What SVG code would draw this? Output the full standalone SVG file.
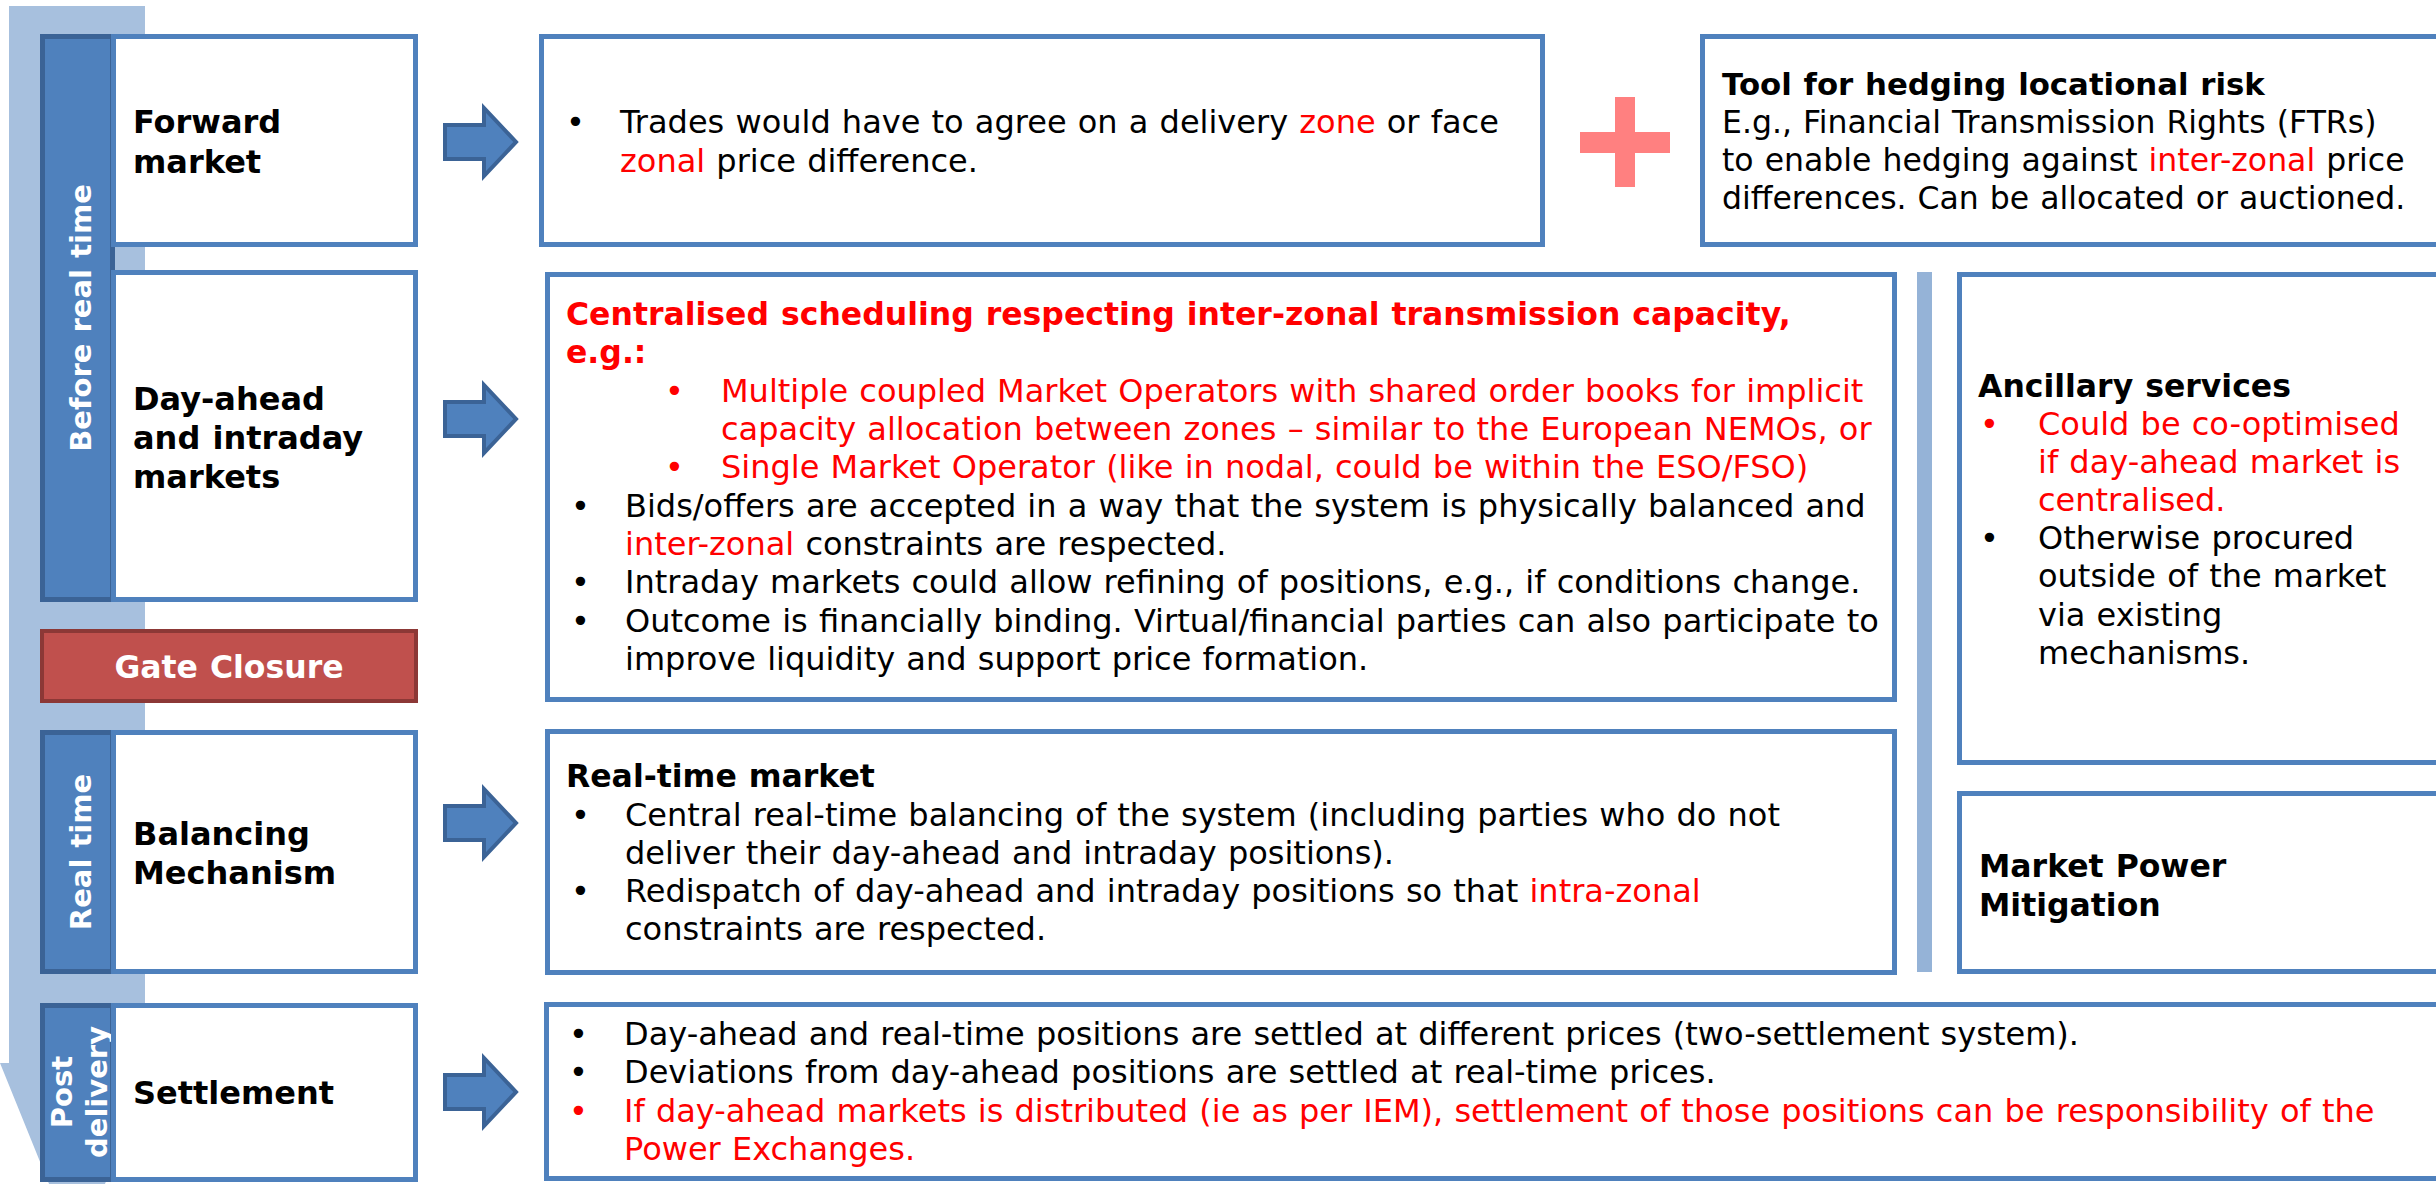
<svg xmlns="http://www.w3.org/2000/svg" width="2436" height="1184" viewBox="0 0 2436 1184">
  <defs>
    <style>
      .t { font-family: "DejaVu Sans", Verdana, sans-serif; word-spacing: 1px; }
      .box { fill: #ffffff; stroke: #4f81bd; stroke-width: 5; }
      .tab { fill: #4f81bd; stroke: #3b6396; stroke-width: 5; }
      .arrow { fill: #4f81bd; stroke: #3b6396; stroke-width: 4; stroke-linejoin: miter; }
      .lbl { font-weight: bold; font-size: 32px; fill: #000; }
      .tabtxt { font-weight: bold; font-size: 29px; fill: #ffffff; }
      .b32 { font-size: 32px; fill: #000; }
      .hd { font-weight: bold; font-size: 31.5px; }
      .ftr { font-size: 31.5px; }
      .ftr.hd { font-size: 30.8px; }
      .red { fill: #ff0000; }
    </style>
  </defs>

  <!-- timeline band behind the stage tabs -->
  <path d="M9,6 H145 V1063 H154 L77,1253 L0,1063 H9 Z" fill="#a7c0de"/>

  <!-- stage tabs -->
  <g id="tab-before">
    <rect class="tab" x="42.5" y="36.5" width="70" height="563"/>
    <text class="t tabtxt" transform="translate(91,318) rotate(-90)" text-anchor="middle">Before real time</text>
  </g>
  <g id="tab-realtime">
    <rect class="tab" x="42.5" y="732.5" width="70" height="239"/>
    <text class="t tabtxt" transform="translate(91,852) rotate(-90)" text-anchor="middle">Real time</text>
  </g>
  <g id="tab-post">
    <rect class="tab" x="42.5" y="1005.5" width="70" height="174"/>
    <text class="t tabtxt" transform="translate(72,1092) rotate(-90)" text-anchor="middle">Post</text>
    <text class="t tabtxt" transform="translate(107,1092) rotate(-90)" text-anchor="middle">delivery</text>
  </g>

  <!-- stage labels -->
  <g id="forward-market">
    <rect class="box" x="113.5" y="36.5" width="302" height="208"/>
    <text class="t lbl" x="133" y="133">Forward</text>
    <text class="t lbl" x="133" y="173">market</text>
  </g>
  <g id="dayahead-intraday">
    <rect class="box" x="113.5" y="272.5" width="302" height="327"/>
    <text class="t lbl" x="133" y="410">Day-ahead</text>
    <text class="t lbl" x="133" y="449">and intraday</text>
    <text class="t lbl" x="133" y="488">markets</text>
  </g>
  <g id="gate-closure">
    <rect x="42" y="631" width="374" height="70" fill="#c0504d" stroke="#8c3836" stroke-width="4"/>
    <text class="t" x="229" y="678" text-anchor="middle" font-size="31.5" font-weight="bold" fill="#ffffff">Gate Closure</text>
  </g>
  <g id="balancing-mechanism">
    <rect class="box" x="113.5" y="732.5" width="302" height="239"/>
    <text class="t lbl" x="133" y="845">Balancing</text>
    <text class="t lbl" x="133" y="884">Mechanism</text>
  </g>
  <g id="settlement">
    <rect class="box" x="113.5" y="1005.5" width="302" height="174"/>
    <text class="t lbl" x="133" y="1104">Settlement</text>
  </g>

  <!-- connectors: block arrows from each stage to its description -->
  <g id="connectors">
    <polygon class="arrow" points="445,125 484,125 484,108 516,142 484,176 484,159 445,159"/>
    <polygon class="arrow" points="445,402 484,402 484,385 516,419 484,453 484,436 445,436"/>
    <polygon class="arrow" points="445,806 484,806 484,789 516,823 484,857 484,840 445,840"/>
    <polygon class="arrow" points="445,1075 484,1075 484,1058 516,1092 484,1126 484,1109 445,1109"/>
  </g>

  <!-- forward market description -->
  <g id="forward-desc">
    <rect class="box" x="541.5" y="36.5" width="1001" height="208"/>
    <text class="t b32" x="566" y="133">•</text>
    <text class="t b32" x="620" y="133">Trades would have to agree on a delivery <tspan class="red">zone</tspan> or face</text>
    <text class="t b32" x="620" y="172"><tspan class="red">zonal</tspan> price difference.</text>
  </g>

  <!-- plus sign -->
  <g id="plus">
    <rect x="1615" y="97" width="20" height="90" fill="#ff8080"/>
    <rect x="1580" y="132" width="90" height="21" fill="#ff8080"/>
  </g>

  <g id="ftr-tool">
    <rect class="box" x="1702.5" y="36.5" width="740" height="208"/>
    <text class="t b32 ftr hd" x="1722" y="95">Tool for hedging locational risk</text>
    <text class="t b32 ftr" x="1722" y="133">E.g., Financial Transmission Rights (FTRs)</text>
    <text class="t b32 ftr" x="1722" y="171">to enable hedging against <tspan class="red">inter-zonal</tspan> price</text>
    <text class="t b32 ftr" x="1722" y="209">differences. Can be allocated or auctioned.</text>
  </g>

  <!-- day-ahead / intraday description -->
  <g id="centralised-scheduling">
    <rect class="box" x="547.5" y="274.5" width="1347" height="425"/>
    <text class="t b32 hd red" x="566" y="325">Centralised scheduling respecting inter-zonal transmission capacity,</text>
    <text class="t b32 hd red" x="566" y="363">e.g.:</text>
    <text class="t b32 red" x="665" y="402">•</text>
    <text class="t b32 red" x="721" y="402">Multiple coupled Market Operators with shared order books for implicit</text>
    <text class="t b32 red" x="721" y="440">capacity allocation between zones – similar to the European NEMOs, or</text>
    <text class="t b32 red" x="665" y="478">•</text>
    <text class="t b32 red" x="721" y="478">Single Market Operator (like in nodal, could be within the ESO/FSO)</text>
    <text class="t b32" x="571" y="517">•</text>
    <text class="t b32" x="625" y="517">Bids/offers are accepted in a way that the system is physically balanced and</text>
    <text class="t b32" x="625" y="555"><tspan class="red">inter-zonal</tspan> constraints are respected.</text>
    <text class="t b32" x="571" y="593">•</text>
    <text class="t b32" x="625" y="593">Intraday markets could allow refining of positions, e.g., if conditions change.</text>
    <text class="t b32" x="571" y="632">•</text>
    <text class="t b32" x="625" y="632">Outcome is financially binding. Virtual/financial parties can also participate to</text>
    <text class="t b32" x="625" y="670">improve liquidity and support price formation.</text>
  </g>

  <!-- separator bar -->
  <rect x="1917" y="272" width="15" height="700" fill="#95b3d7"/>

  <g id="ancillary-services">
    <rect class="box" x="1959.5" y="274.5" width="483" height="488"/>
    <text class="t b32 hd" x="1978" y="397">Ancillary services</text>
    <text class="t b32 red" x="1980" y="435">•</text>
    <text class="t b32 red" x="2038" y="435">Could be co-optimised</text>
    <text class="t b32 red" x="2038" y="473">if day-ahead market is</text>
    <text class="t b32 red" x="2038" y="511">centralised.</text>
    <text class="t b32" x="1980" y="549">•</text>
    <text class="t b32" x="2038" y="549">Otherwise procured</text>
    <text class="t b32" x="2038" y="587">outside of the market</text>
    <text class="t b32" x="2038" y="626">via existing</text>
    <text class="t b32" x="2038" y="664">mechanisms.</text>
  </g>

  <g id="market-power-mitigation">
    <rect class="box" x="1959.5" y="793.5" width="483" height="178"/>
    <text class="t b32 hd" x="1979" y="877">Market Power</text>
    <text class="t b32 hd" x="1979" y="916">Mitigation</text>
  </g>

  <!-- balancing mechanism description -->
  <g id="realtime-market">
    <rect class="box" x="547.5" y="731.5" width="1347" height="241"/>
    <text class="t b32 hd" x="566" y="787">Real-time market</text>
    <text class="t b32" x="571" y="826">•</text>
    <text class="t b32" x="625" y="826">Central real-time balancing of the system (including parties who do not</text>
    <text class="t b32" x="625" y="864">deliver their day-ahead and intraday positions).</text>
    <text class="t b32" x="571" y="902">•</text>
    <text class="t b32" x="625" y="902">Redispatch of day-ahead and intraday positions so that <tspan class="red">intra-zonal</tspan></text>
    <text class="t b32" x="625" y="940">constraints are respected.</text>
  </g>

  <!-- settlement description -->
  <g id="settlement-desc">
    <rect class="box" x="546.5" y="1004.5" width="1896" height="174"/>
    <text class="t b32" x="569" y="1045">•</text>
    <text class="t b32" x="624" y="1045">Day-ahead and real-time positions are settled at different prices (two-settlement system).</text>
    <text class="t b32" x="569" y="1083">•</text>
    <text class="t b32" x="624" y="1083">Deviations from day-ahead positions are settled at real-time prices.</text>
    <text class="t b32 red" x="569" y="1122">•</text>
    <text class="t b32 red" x="624" y="1122">If day-ahead markets is distributed (ie as per IEM), settlement of those positions can be responsibility of the</text>
    <text class="t b32 red" x="624" y="1160">Power Exchanges.</text>
  </g>
</svg>
